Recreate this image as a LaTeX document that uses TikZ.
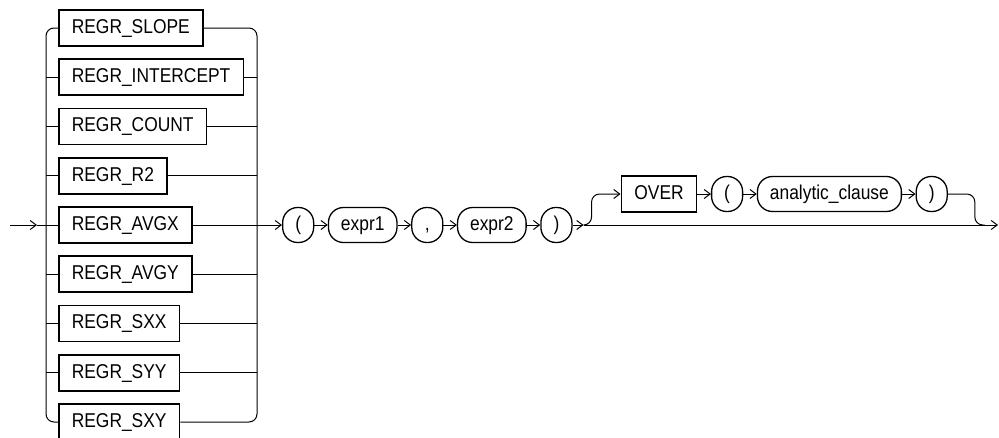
\documentclass[tikz,border=0pt]{standalone}
\usepackage{fontspec}
\newfontfamily\railfont{Liberation Sans}[FakeStretch=0.87]
\usetikzlibrary{arrows.meta,positioning}

\begin{document}
\begin{tikzpicture}[
    x=1pt, y=-1pt,
    node distance=11.65pt and 13.5pt,
    box/.style={draw, rectangle, minimum height=36pt, inner xsep=13pt, text height=14.5pt, text depth=4pt, line width=1.6pt, font=\railfont\fontsize{20}{24}\selectfont},
    term/.style={draw, rectangle, rounded corners=15pt, minimum height=35pt, minimum width=31pt, inner xsep=12.5pt, text height=14.5pt, text depth=4pt, line width=1.3pt, font=\railfont\fontsize{20}{24}\selectfont},
    rail/.style={line width=1pt},
    arrow/.style={rail, -{Straight Barb[length=6pt,width=9pt]}}
]
    \clip (0,0) rectangle (999,437);

    % --- Left choice: REGR functions ---
    \node[box, anchor=west] (slope) at (58,28) {REGR\_SLOPE};
    \node[box, below right=11.65pt and 0pt of slope.south west] (intercept) {REGR\_INTERCEPT};
    \node[box, below right=11.65pt and 0pt of intercept.south west] (count) {REGR\_COUNT};
    \node[box, below right=11.65pt and 0pt of count.south west] (rtwo) {REGR\_R2};
    \node[box, below right=11.65pt and 0pt of rtwo.south west] (avgx) {REGR\_AVGX};
    \node[box, below right=11.65pt and 0pt of avgx.south west] (avgy) {REGR\_AVGY};
    \node[box, below right=11.65pt and 0pt of avgy.south west] (sxx) {REGR\_SXX};
    \node[box, below right=11.65pt and 0pt of sxx.south west] (syy) {REGR\_SYY};
    \node[box, below right=11.65pt and 0pt of syy.south west] (sxy) {REGR\_SXY};

    \coordinate (start) at (10,0 |- avgx);
    \coordinate (entry) at (37,0 |- avgx);
    \coordinate (railL) at (46,0);
    \coordinate (railR) at (257,0);
    \coordinate (junction) at (railR |- avgx);

    % --- Argument list ---
    \node[term, right=25pt of junction] (lparen) {(};
    \node[term, right=of lparen] (exprone) {expr1};
    \node[term, right=of exprone] (comma) {,};
    \node[term, right=of comma] (exprtwo) {expr2};
    \node[term, right=of exprtwo] (rparen) {)};
    \coordinate[right=11pt of rparen] (split);

    % --- Optional OVER clause ---
    \node[box, right=37pt of split, yshift=31pt] (over) {OVER};
    \node[term, right=of over] (lparenb) {(};
    \node[term, right=of lparenb] (analytic) {analytic\_clause};
    \node[term, right=of analytic] (rparenb) {)};
    \coordinate[right=27pt of rparenb] (bend);
    \coordinate (merge) at (bend |- split);
    \coordinate (exit) at (998,0 |- avgx);

    % --- Rails of the choice ---
    \draw[rail, rounded corners=8pt] (slope) -| (railL |- sxy) -- (sxy);
    \draw[rail, rounded corners=8pt] (slope) -| (railR |- sxy) -- (sxy);
    \draw[rail] (railL |- intercept) -- (intercept) -- (railR |- intercept);
    \draw[rail] (railL |- count) -- (count) -- (railR |- count);
    \draw[rail] (railL |- rtwo) -- (rtwo) -- (railR |- rtwo);
    \draw[rail] (railL |- avgy) -- (avgy) -- (railR |- avgy);
    \draw[rail] (railL |- sxx) -- (sxx) -- (railR |- sxx);
    \draw[rail] (railL |- syy) -- (syy) -- (railR |- syy);

    % --- Main line ---
    \draw[arrow] (start) -- (entry);
    \draw[rail] (entry) -- (avgx);
    \draw[arrow] (avgx) -- (lparen);
    \draw[arrow] (lparen) -- (exprone);
    \draw[arrow] (exprone) -- (comma);
    \draw[arrow] (comma) -- (exprtwo);
    \draw[arrow] (exprtwo) -- (rparen);
    \draw[arrow] (rparen) -- (split);
    \draw[arrow] (split) -- (exit);

    % --- Branch over OVER ( analytic_clause ) ---
    \draw[arrow, rounded corners=8pt] (split) -- ++(8,0) |- (over);
    \draw[arrow] (over) -- (lparenb);
    \draw[arrow] (lparenb) -- (analytic);
    \draw[arrow] (analytic) -- (rparenb);
    \draw[rail, rounded corners=8pt] (rparenb) -| (merge) -- ++(10,0);

\end{tikzpicture}
\end{document}
